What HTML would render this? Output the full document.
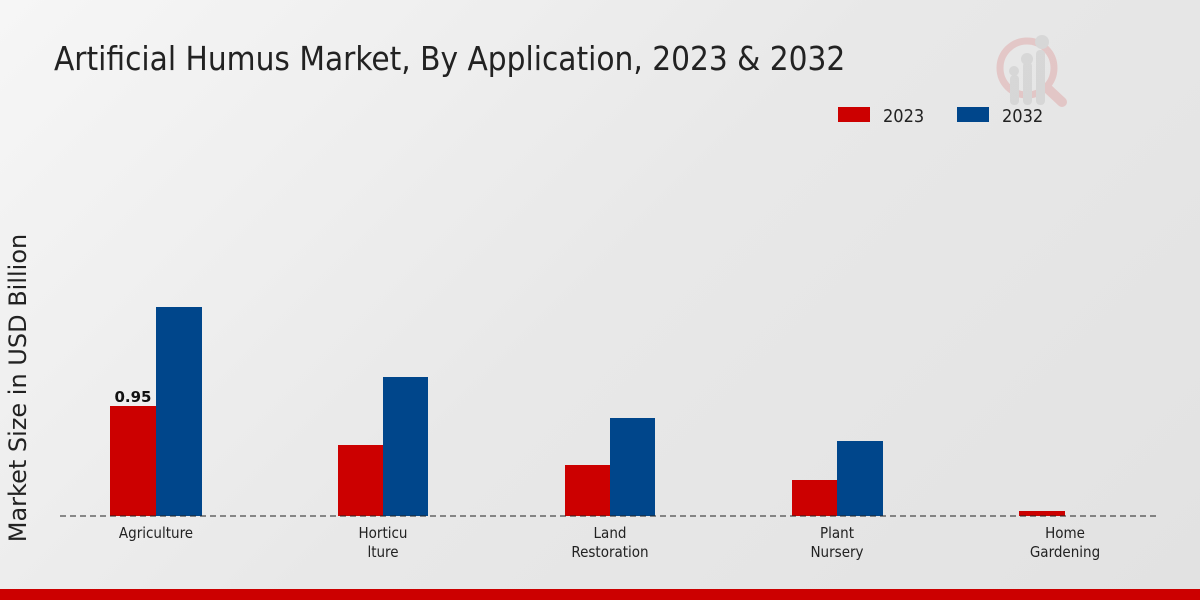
<!DOCTYPE html>
<html><head><style>
html,body{margin:0;padding:0}
body{width:1200px;height:600px;overflow:hidden;background:linear-gradient(135deg,#f6f6f6 0%,#e8e8e8 50%,#e2e2e2 100%);font-family:"DejaVu Sans Condensed","Liberation Sans Narrow","Liberation Sans",sans-serif;position:relative}
</style></head><body>
<svg width="1200" height="600" style="position:absolute;left:0;top:0" font-family="'DejaVu Sans Condensed','Liberation Sans Narrow','Liberation Sans',sans-serif">
<text x="54" y="70" font-size="33" fill="#222">Artificial Humus Market, By Application, 2023 &amp; 2032</text>
<g opacity="0.5">
<circle cx="1027" cy="68" r="27" fill="none" stroke="#e0a8a8" stroke-width="7"/>
<line x1="1047" y1="88" x2="1062" y2="102" stroke="#e0a8a8" stroke-width="10" stroke-linecap="round"/>
<rect x="1010" y="75" width="9" height="30" rx="4" fill="#c8c8c8"/>
<rect x="1023" y="62" width="9" height="43" rx="4" fill="#c8c8c8"/>
<rect x="1036" y="50" width="9" height="55" rx="4" fill="#c8c8c8"/>
<circle cx="1014" cy="71" r="5" fill="#c8c8c8"/><circle cx="1027" cy="59" r="6" fill="#c8c8c8"/><circle cx="1042" cy="42" r="7" fill="#c8c8c8"/>
</g>
<rect x="838" y="107" width="32" height="15" fill="#cc0000"/>
<text x="883" y="122" font-size="18" fill="#222">2023</text>
<rect x="957" y="107" width="32" height="15" fill="#00468b"/>
<text x="1002" y="122" font-size="18" fill="#222">2032</text>
<text transform="translate(26,388) rotate(-90)" text-anchor="middle" font-size="24" fill="#222" font-family="'DejaVu Sans','Liberation Sans',sans-serif">Market Size in USD Billion</text>
<rect x="110" y="406" width="46" height="110" fill="#cc0000"/>
<rect x="156" y="307" width="46" height="209" fill="#00468b"/>
<rect x="338" y="445" width="45" height="71" fill="#cc0000"/>
<rect x="383" y="377" width="45" height="139" fill="#00468b"/>
<rect x="565" y="465" width="45" height="51" fill="#cc0000"/>
<rect x="610" y="418" width="45" height="98" fill="#00468b"/>
<rect x="792" y="480" width="45" height="36" fill="#cc0000"/>
<rect x="837" y="441" width="46" height="75" fill="#00468b"/>
<rect x="1019" y="511" width="46" height="5" fill="#cc0000"/>
<line x1="60" y1="516" x2="1160" y2="516" stroke="#222" stroke-width="1" stroke-dasharray="6,4"/>
<text x="133" y="402" text-anchor="middle" font-size="15" font-weight="bold" fill="#111" font-family="'DejaVu Sans','Liberation Sans',sans-serif">0.95</text>
<g font-size="15" fill="#222" text-anchor="middle">
<text x="156" y="538">Agriculture</text>
<text x="383" y="538">Horticu</text><text x="383" y="557">lture</text>
<text x="610" y="538">Land</text><text x="610" y="557">Restoration</text>
<text x="837" y="538">Plant</text><text x="837" y="557">Nursery</text>
<text x="1065" y="538">Home</text><text x="1065" y="557">Gardening</text>
</g>
<rect x="0" y="589" width="1200" height="11" fill="#cc0000"/>
</svg>
</body></html>
